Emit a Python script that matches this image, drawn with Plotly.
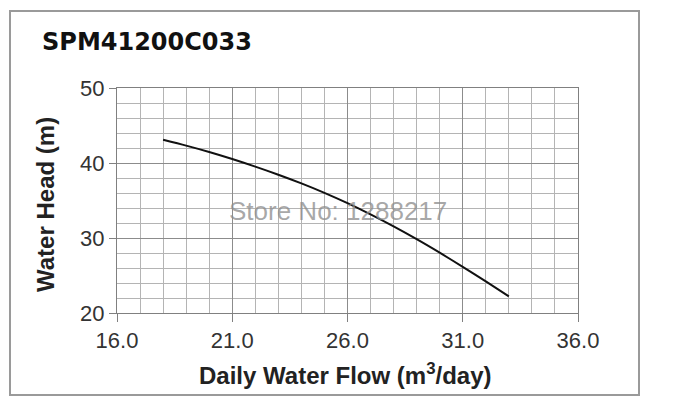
import plotly.graph_objects as go

# Data
flow = [18, 19, 20, 21, 22, 23, 24, 25, 26, 27, 28, 29, 30, 31, 32, 33]
head = [43.1, 42.32, 41.47, 40.53, 39.52, 38.44, 37.28, 36.02, 34.64, 33.14, 31.54, 29.84, 28.04, 26.16, 24.21, 22.21]

x_ticks = [16.0, 21.0, 26.0, 31.0, 36.0]
y_ticks = [20, 30, 40, 50]

title_text = "SPM41200C033"
x_title = "Daily Water Flow (m<sup>3</sup>/day)"
y_title = "Water Head (m)"
watermark = "Store No: 1288217"

# layout geometry (pixels)
W, H = 675, 420
L, R, T, B = 117, 97, 88, 107
pw, ph = W - L - R, H - T - B


def px_x(p):
    return (p - L) / pw


def px_y(p):
    return (H - B - p) / ph


fig = go.Figure()
fig.add_trace(go.Scatter(
    x=flow, y=head, mode="lines",
    line=dict(color="#111111", width=2, shape="spline", smoothing=0.8),
    hoverinfo="skip", showlegend=False,
))

axis_font = dict(family="Liberation Sans, Arial, sans-serif", size=22, color="#333333")

fig.update_xaxes(
    range=[16, 36], tickmode="array", tickvals=x_ticks,
    ticktext=[f"{v:.1f}" for v in x_ticks],
    showgrid=True, gridcolor="#8c8c8c", gridwidth=1,
    minor=dict(dtick=1, tick0=16, showgrid=True, gridcolor="#b4b4b4", gridwidth=1, ticks=""),
    showline=True, linecolor="#808080", linewidth=1, mirror=True,
    ticks="outside", ticklen=8, tickcolor="#808080",
    tickfont=axis_font, zeroline=False, fixedrange=True,
)
fig.update_yaxes(
    range=[20, 50], tickmode="array", tickvals=y_ticks,
    showgrid=True, gridcolor="#8c8c8c", gridwidth=1,
    minor=dict(dtick=2, tick0=20, showgrid=True, gridcolor="#b4b4b4", gridwidth=1, ticks=""),
    showline=True, linecolor="#808080", linewidth=1, mirror=True,
    ticks="outside", ticklen=7, tickcolor="#808080",
    tickfont=axis_font, zeroline=False, fixedrange=True,
)

bold_font = dict(family="Liberation Sans, Arial, sans-serif", size=24, color="#222222")

fig.add_annotation(
    text="<b>" + title_text + "</b>", xref="paper", yref="paper",
    x=px_x(40), y=px_y(42), xanchor="left", yanchor="middle", showarrow=False,
    font=dict(family="DejaVu Sans, sans-serif", size=24, color="#111111"),
)
fig.add_annotation(
    text="<b>" + x_title + "</b>", xref="paper", yref="paper",
    x=px_x(345), y=px_y(374), xanchor="center", yanchor="middle", showarrow=False,
    font=bold_font,
)
fig.add_annotation(
    text="<b>" + y_title + "</b>", xref="paper", yref="paper",
    x=px_x(45), y=px_y(205), xanchor="center", yanchor="middle", showarrow=False,
    textangle=-90, font=bold_font,
)
fig.add_annotation(
    text=watermark, xref="paper", yref="paper",
    x=px_x(338), y=px_y(211), xanchor="center", yanchor="middle", showarrow=False,
    font=dict(family="Liberation Sans, Arial, sans-serif", size=26, color="rgba(140,140,140,0.75)"),
)

# outer frame around the whole chart
fig.add_shape(
    type="rect", xref="paper", yref="paper",
    x0=px_x(10), x1=px_x(639), y0=px_y(395), y1=px_y(11),
    line=dict(color="#9a9a9a", width=2), fillcolor="rgba(0,0,0,0)", layer="below",
)

fig.update_layout(
    width=W, height=H,
    margin=dict(l=L, r=R, t=T, b=B),
    paper_bgcolor="white", plot_bgcolor="white",
    showlegend=False,
)

fig.write_html("out.html")
